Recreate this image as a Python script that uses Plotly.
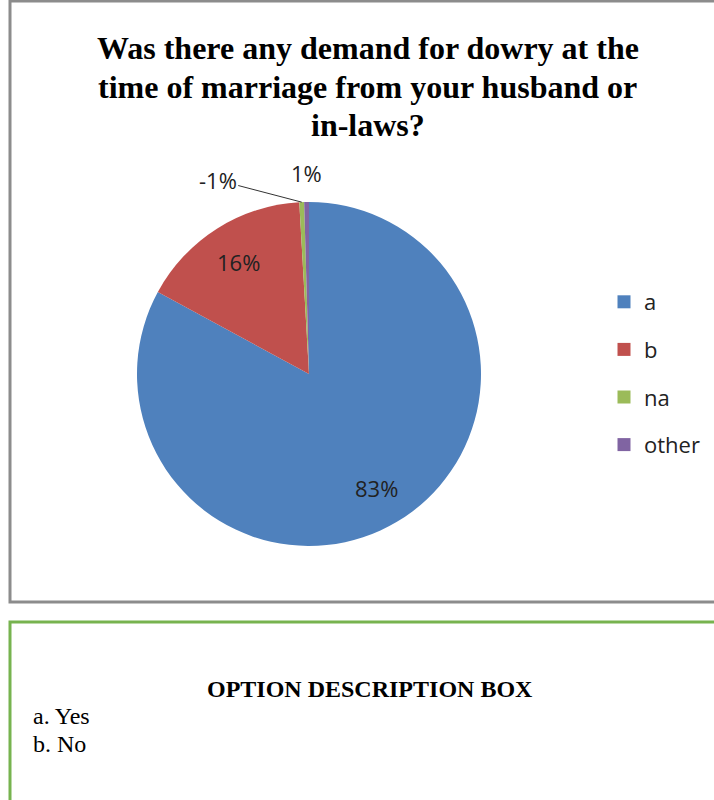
import math
import plotly.graph_objects as go

categories = ["a", "b", "na", "other"]
values = [83.0, 16.2, 0.45, 0.45]
value_labels = ["83%", "16%", "-1%", "1%"]
colors = ["#4F81BD", "#C0504D", "#9BBB59", "#8064A2"]
title_lines = ["Was there any demand for dowry at the",
               "time of marriage from your husband or",
               "in-laws?"]
option_title = "OPTION DESCRIPTION BOX"
option_lines = ["a. Yes", "b. No"]

W, H = 714, 800
cx, cy, r = 309, 374, 172

fig = go.Figure()
fig.add_trace(go.Pie(
    labels=categories, values=values,
    textinfo="none", sort=False, direction="clockwise", rotation=0,
    marker=dict(colors=colors, line=dict(width=0)),
    showlegend=False, automargin=False, hoverinfo="label+percent",
    domain=dict(x=[(cx - r) / W, (cx + r) / W], y=[(H - cy - r) / H, (H - cy + r) / H]),
))
for cat, col in zip(categories, colors):
    fig.add_trace(go.Scatter(x=[None], y=[None], mode="markers", name=cat, legendgroup=cat,
                             marker=dict(symbol="square", size=13, color=col)))


def px(x, y):
    return x / W, 1 - y / H


# data labels placed at each slice's mid-angle, derived from the values
total = sum(values)
label_font = dict(family="Open Sans", size=22, color="#222")
annotations = []
cum = 0.0
label_k = [0.77, 0.77, None, 1.17]
for i, v in enumerate(values):
    mid = (cum + v / 2) / total * 2 * math.pi
    cum += v
    k = label_k[i]
    if k is None:
        # leader-line label: arrow from slice edge to text
        ex, ey = cx + r * math.sin(mid), cy - r * math.cos(mid)
        x, y = px(ex, ey)
        annotations.append(dict(text=value_labels[i], xref="paper", yref="paper", x=x, y=y,
                                showarrow=True, arrowhead=0, arrowwidth=1, arrowcolor="#333",
                                ax=-84, ay=-22, font=label_font, standoff=0))
    else:
        x, y = px(cx + k * r * math.sin(mid), cy - k * r * math.cos(mid))
        annotations.append(dict(text=value_labels[i], xref="paper", yref="paper", x=x, y=y,
                                xanchor="center", yanchor="middle",
                                showarrow=False, font=label_font))

title_font = dict(family="Liberation Serif", size=32, color="#000", weight="bold")
for line, yy in zip(title_lines, [48, 87, 125]):
    x, y = px(368, yy)
    annotations.append(dict(text=line, xref="paper", yref="paper", x=x, y=y, showarrow=False,
                            xanchor="center", yanchor="middle", font=title_font))

x, y = px(370, 689)
annotations.append(dict(text=option_title, xref="paper", yref="paper", x=x, y=y, showarrow=False,
                        xanchor="center", yanchor="middle",
                        font=dict(family="Liberation Serif", size=24, color="#000", weight="bold")))
for line, yy in zip(option_lines, [716, 744]):
    x, y = px(31, yy)
    annotations.append(dict(text=line, xref="paper", yref="paper", x=x, y=y, xanchor="left",
                            yanchor="middle", showarrow=False,
                            font=dict(family="Liberation Serif", size=24, color="#000")))

fig.update_layout(
    width=W, height=H, margin=dict(l=0, r=0, t=0, b=0),
    paper_bgcolor="white", plot_bgcolor="white",
    xaxis=dict(visible=False), yaxis=dict(visible=False),
    legend=dict(x=604 / W, y=1 - 281 / H, xanchor="left", yanchor="top", tracegroupgap=16,
                font=dict(family="Open Sans", size=22, color="#222"), itemwidth=30,
                bgcolor="rgba(0,0,0,0)"),
    shapes=[
        dict(type="rect", xref="paper", yref="paper", x0=10 / W, x1=1.02, y0=1 - 602 / H, y1=1 - 1 / H,
             line=dict(color="#8C8C8C", width=3)),
        dict(type="rect", xref="paper", yref="paper", x0=10 / W, x1=1.02, y0=-0.02, y1=1 - 622 / H,
             line=dict(color="#77B34F", width=3)),
    ],
    annotations=annotations,
)
fig.write_html("out.html", config={"displayModeBar": False},
               post_script="document.body.style.margin='0';")
